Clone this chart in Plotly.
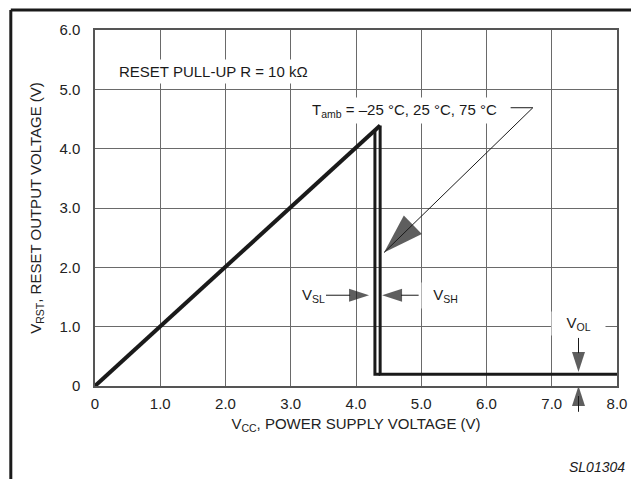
import plotly.graph_objects as go

# ---- data ----
x_tickvals = [0, 1, 2, 3, 4, 5, 6, 7, 8]
x_ticktext = ["0", "1.0", "2.0", "3.0", "4.0", "5.0", "6.0", "7.0", "8.0"]
y_tickvals = [0, 1, 2, 3, 4, 5, 6]
y_ticktext = ["0", "1.0", "2.0", "3.0", "4.0", "5.0", "6.0"]

# rising part of output (follows VCC)
vcc_rise = [0.0, 4.37]
vrst_rise = [0.0, 4.39]
# drop at V_SH and low output level V_OL
vcc_high_branch = [4.37, 4.37, 8.0]
vrst_high_branch = [4.39, 0.20, 0.20]
# drop at V_SL
vcc_low_branch = [4.29, 4.29, 4.37]
vrst_low_branch = [4.31, 0.20, 0.20]

# annotation leaders
tamb_leader_x = [6.37, 6.71, 4.43]
tamb_leader_y = [4.69, 4.69, 2.25]
vsl_arrow_x = [3.54, 4.20]
vsl_arrow_y = [1.53, 1.53]
vsh_arrow_x = [4.96, 4.40]
vsh_arrow_y = [1.53, 1.53]
vol_down_x = [7.41, 7.41]
vol_down_y = [0.81, 0.235]
vol_up_x = [7.41, 7.41]
vol_up_y = [-0.46, 0.0]

FONT = "Liberation Sans, Arial, Helvetica, sans-serif"
INK = "#1a1a1a"
GRID = "#6a6a6a"

fig = go.Figure()

fig.add_trace(go.Scatter(x=vcc_rise, y=vrst_rise, mode="lines",
                         line=dict(color=INK, width=4), hoverinfo="skip"))
fig.add_trace(go.Scatter(x=vcc_high_branch, y=vrst_high_branch, mode="lines",
                         line=dict(color=INK, width=3), hoverinfo="skip"))
fig.add_trace(go.Scatter(x=vcc_low_branch, y=vrst_low_branch, mode="lines",
                         line=dict(color=INK, width=3), hoverinfo="skip"))


def arrow_trace(xs, ys, head, width=1.0, clip=True, mode="lines+markers"):
    sizes = [0] * (len(xs) - 1) + [head]
    return go.Scatter(
        x=xs, y=ys, mode=mode, cliponaxis=clip, hoverinfo="skip",
        line=dict(color=INK, width=width),
        marker=dict(symbol="arrow", size=sizes, angleref="previous",
                    color=INK, line=dict(width=0)),
    )


fig.add_trace(arrow_trace(tamb_leader_x, tamb_leader_y, 42, 1.0))
fig.add_trace(arrow_trace(vsl_arrow_x, vsl_arrow_y, 21, 1.0))
fig.add_trace(arrow_trace(vsh_arrow_x, vsh_arrow_y, 21, 1.0))
fig.add_trace(arrow_trace(vol_down_x, vol_down_y, 21, 1.0))
fig.add_trace(arrow_trace(vol_up_x, vol_up_y, 21, 1.0, clip=False, mode="markers"))

ann_font = dict(family=FONT, size=15, color=INK)
annotations = [
    dict(x=0.30, y=5.30, xref="x", yref="y", xanchor="left", yanchor="middle",
         text="RESET PULL-UP R = 10 kΩ", showarrow=False, bgcolor="white",
         borderpad=3, font=ann_font),
    dict(x=4.75, y=4.65, xref="x", yref="y", xanchor="center", yanchor="middle",
         text="T<sub>amb</sub> = –25 °C, 25 °C, 75 °C", showarrow=False,
         bgcolor="white", borderpad=3, font=ann_font),
    dict(x=3.55, y=1.53, xref="x", yref="y", xanchor="right", yanchor="middle",
         text="V<sub>SL</sub>", showarrow=False, font=ann_font),
    dict(x=4.99, y=1.53, xref="x", yref="y", xanchor="left", yanchor="middle",
         text="&nbsp;&nbsp;V<sub>SH</sub>", showarrow=False, bgcolor="white",
         borderpad=3, font=ann_font),
    dict(x=7.41, y=1.06, xref="x", yref="y", xanchor="center", yanchor="middle",
         text="&nbsp;&nbsp;&nbsp;V<sub>OL</sub>&nbsp;&nbsp;&nbsp;", showarrow=False,
         bgcolor="white", borderpad=2, font=ann_font),
    # shaft of the upward V_OL arrow below the axis (outside plot area)
    dict(x=vol_up_x[1], y=vol_up_y[1], ax=vol_up_x[0], ay=vol_up_y[0],
         xref="x", yref="y", axref="x", ayref="y", text="", showarrow=True,
         arrowhead=0, arrowwidth=1, arrowcolor=INK, standoff=10),
    dict(x=1.019, y=-0.228, xref="paper", yref="paper", xanchor="right",
         yanchor="middle", text="<i>SL01304</i>", showarrow=False,
         font=dict(family=FONT, size=14, color=INK)),
]

# outer frame (top and left edges of the figure)
shapes = [
    dict(type="line", xref="paper", yref="paper", x0=-0.1613, x1=1.06,
         y0=1.0562, y1=1.0562, line=dict(color=INK, width=3)),
    dict(type="line", xref="paper", yref="paper", x0=-0.1613, x1=-0.1613,
         y0=1.0562, y1=-0.30, line=dict(color=INK, width=3)),
]

# the page body adds an 8 px offset, so the figure is made 8 px smaller
fig.update_layout(
    width=631, height=471,
    margin=dict(l=87, r=17, t=22, b=93),
    paper_bgcolor="white", plot_bgcolor="white",
    showlegend=False,
    font=dict(family=FONT, size=15, color="#222"),
    annotations=annotations,
    shapes=shapes,
    xaxis=dict(
        range=[0, 8], tickvals=x_tickvals, ticktext=x_ticktext,
        showgrid=True, gridcolor=GRID, gridwidth=1,
        showline=True, mirror=True, linecolor="#555", linewidth=1.5,
        zeroline=False, ticks="", ticklabelstandoff=3,
        tickfont=dict(family=FONT, size=15, color="#222"),
        title=dict(text="V<sub>CC</sub>, POWER SUPPLY VOLTAGE (V)", standoff=8,
                   font=dict(family=FONT, size=15, color="#222")),
    ),
    yaxis=dict(
        range=[0, 6], tickvals=y_tickvals, ticktext=y_ticktext,
        showgrid=True, gridcolor=GRID, gridwidth=1,
        showline=True, mirror=True, linecolor="#555", linewidth=1.5,
        zeroline=False, ticks="", ticklabelstandoff=10,
        tickfont=dict(family=FONT, size=15, color="#222"),
        title=dict(text="V<sub>RST</sub>, RESET OUTPUT VOLTAGE (V)", standoff=14,
                   font=dict(family=FONT, size=15, color="#222")),
    ),
)

fig.write_html("out.html")
